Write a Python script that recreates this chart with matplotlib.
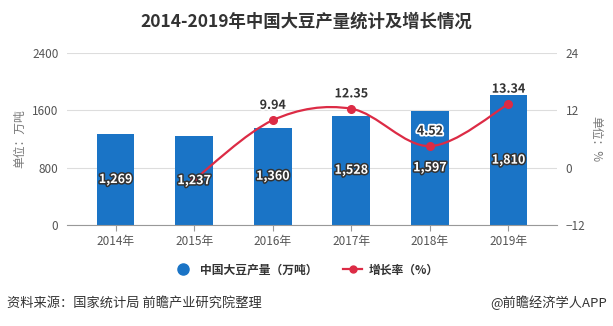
import numpy as np
import matplotlib
matplotlib.use('Agg')
import matplotlib.pyplot as plt
import matplotlib.patheffects as pe
from matplotlib.path import Path
from matplotlib.patches import PathPatch
from matplotlib.lines import Line2D

plt.rcParams['font.family'] = ['Noto Sans CJK SC', 'DejaVu Sans']

# data
years = ['2014年', '2015年', '2016年', '2017年', '2018年', '2019年']
output = [1269, 1237, 1360, 1528, 1597, 1810]          # 万吨
growth_years = [1, 2, 3, 4, 5]                          # index into years
growth = [-2.52, 9.94, 12.35, 4.52, 13.34]              # %
growth_shown = [False, True, True, True, True]

bar_color = '#1a74c6'
line_color = '#dc2b45'
grey = '#555555'

fig = plt.figure(figsize=(6.13, 3.26), dpi=100)
ax = fig.add_axes([0.109, 0.31, 0.800, 0.527])
ax2 = ax.twinx()

x = np.arange(len(years))
ax.bar(x, output, width=0.48, color=bar_color, zorder=2)

ax.set_ylim(0, 2400)
ax.set_yticks([0, 800, 1600, 2400])
ax.set_xlim(-0.62, 5.62)
ax.set_xticks(x)
ax.set_xticklabels(years)
ax.grid(axis='y', color='#dddddd', lw=0.8, zorder=0)
ax.set_axisbelow(True)
for s in ['top', 'right', 'left']:
    ax.spines[s].set_visible(False)
ax2.spines[:].set_visible(False)
ax.spines['bottom'].set_color('#999999')
ax.tick_params(axis='y', length=0, pad=6, labelsize=8.5, labelcolor=grey)
ax.tick_params(axis='x', length=4, color='#999999', labelsize=8.5,
               labelcolor=grey)
ax.set_ylabel('单位：万吨', color='#777777', fontsize=8.5, labelpad=4)

ax2.set_ylim(-12, 24)
ax2.set_yticks([-12, 0, 12, 24])
ax2.tick_params(axis='y', length=0, pad=6, labelsize=8.5, labelcolor=grey)
ax2.set_ylabel('单位：%', color='#777777', fontsize=8.5, rotation=270,
               labelpad=12)

# smoothed growth line (catmull-rom as cubic beziers)
px = np.array(growth_years, dtype=float)
py = np.array(growth, dtype=float)
pts = np.column_stack([px, py])
ext = np.vstack([pts[0], pts, pts[-1]])
verts = [tuple(pts[0])]
codes = [Path.MOVETO]
k = 1 / 6
for i in range(len(pts) - 1):
    p0, p1, p2, p3 = ext[i], ext[i + 1], ext[i + 2], ext[i + 3]
    c1 = p1 + (p2 - p0) * k
    c2 = p2 - (p3 - p1) * k
    verts += [tuple(c1), tuple(c2), tuple(p2)]
    codes += [Path.CURVE4] * 3
ax2.add_patch(PathPatch(Path(verts, codes), fill=False, lw=1.6,
                        edgecolor=line_color, zorder=3))
ax2.plot(px, py, 'o', color=line_color, ms=5.5, zorder=4)
for xi, v, show in zip(px, py, growth_shown):
    if show:
        ax2.annotate('{:.2f}'.format(v), (xi, v), xytext=(0, 6),
                     textcoords='offset points', ha='center', va='bottom',
                     fontsize=9, fontweight='bold', color='#333333', zorder=6,
                     path_effects=[pe.withStroke(linewidth=2.5,
                                                 foreground='white')])
ax.set_zorder(1)
ax.patch.set_visible(False)
ax2.set_zorder(2)

# bar value labels, drawn on the twin axes so they sit above the line
for xi, v in zip(x, output):
    ax2.text(xi, (v / 2) / 2400 * 36 - 12, '{:,}'.format(v), ha='center',
             va='center', color='white', fontsize=9, fontweight='bold',
             zorder=5,
             path_effects=[pe.withStroke(linewidth=2.2, foreground='#333333')])

fig.text(0.5, 0.935, '2014-2019年中国大豆产量统计及增长情况', ha='center',
         va='center', fontsize=12.5, fontweight='bold', color='#333333')

handles = [Line2D([], [], marker='o', color=bar_color, ls='none', ms=8),
           Line2D([], [], marker='o', color=line_color, lw=1.6, ms=5)]
fig.legend(handles, ['中国大豆产量（万吨）', '增长率（%）'],
           loc='center', bbox_to_anchor=(0.5, 0.172), ncol=2, frameon=False,
           prop={'size': 8.5, 'weight': 'bold'}, handlelength=1.6,
           columnspacing=2.2, handletextpad=0.6, labelcolor='#333333')

fig.text(0.012, 0.07, '资料来源：国家统计局 前瞻产业研究院整理', ha='left',
         va='center', fontsize=9.5, color='#333333')
fig.text(0.99, 0.07, '@前瞻经济学人APP', ha='right', va='center',
         fontsize=9.5, color='#333333')

fig.savefig('out.png', dpi=100)
